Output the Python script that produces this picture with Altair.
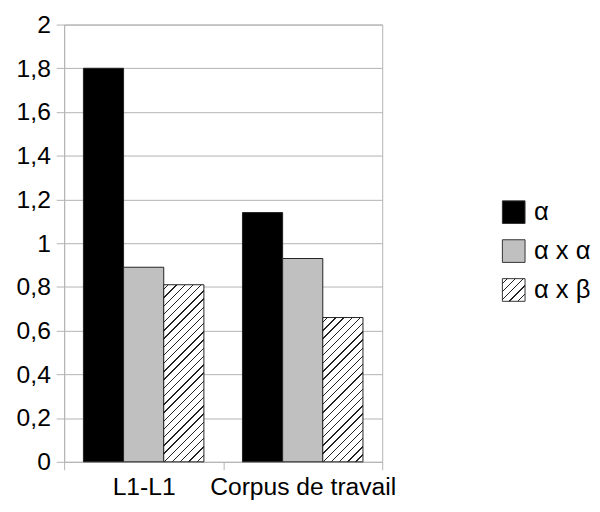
import altair as alt
import pandas as pd

# ---- data ----
groups = ["L1-L1", "Corpus de travail"]
series = ["α", "α x α", "α x β"]
alpha = [1.8, 1.14]
alpha_alpha = [0.89, 0.93]
alpha_beta = [0.81, 0.66]
y_ticks = [0, 0.2, 0.4, 0.6, 0.8, 1.0, 1.2, 1.4, 1.6, 1.8, 2.0]
colors = ["#000000", "#c0c0c0", "#ffffff"]

FONT = "Liberation Sans"
GRID = "#b3b3b3"
W, H = 323, 444
Y_MAX = 2.0
PAD_OUTER = 0.48
SQ = 23

rows = []
for i, g in enumerate(groups):
    for s, vals in zip(series, [alpha, alpha_alpha, alpha_beta]):
        rows.append({"group": g, "series": s, "value": vals[i]})
df = pd.DataFrame(rows)
leg_df = pd.DataFrame({"series": series})

band = W / len(groups)
bar_w = band / (len(series) + 2 * PAD_OUTER)


def hatch(w, h, spacing=5.9, lw=1.0, ink="#222222"):
    """Diagonal '/' hatching as a hard-stop linear gradient (bounding-box units)."""
    L = (w + h) / 2 ** 0.5
    c = (w + h) / (w * w + h * h)
    stops = [{"offset": 0, "color": "#ffffff"}]
    k = 0
    while True:
        a = (k * spacing + spacing / 2) / L
        b = a + lw / L
        if b >= 1:
            break
        stops += [
            {"offset": a, "color": "#ffffff"},
            {"offset": a, "color": ink},
            {"offset": b, "color": ink},
            {"offset": b, "color": "#ffffff"},
        ]
        k += 1
    stops.append({"offset": 1, "color": "#ffffff"})
    return {"gradient": "linear", "x1": 0, "y1": 0, "x2": w * c, "y2": h * c, "stops": stops}


conds = []
for i, g in enumerate(groups):
    h = alpha_beta[i] / Y_MAX * H
    conds.append({
        "test": f"datum.series === '{series[2]}' && datum.group === '{g}'",
        "value": hatch(bar_w, h),
    })

fill_scale = alt.Scale(domain=series, range=colors)

main = alt.Chart(df).mark_bar(stroke="#222222", strokeWidth=1, opacity=1).encode(
    x=alt.X("group:N", sort=groups, title=None,
            scale=alt.Scale(paddingInner=0, paddingOuter=0),
            axis=alt.Axis(labelAngle=0, tickBand="extent", domain=False, grid=False,
                          tickColor=GRID, tickSize=8, labelPadding=5, labelLimit=400,
                          labelFont=FONT, labelFontSize=25, labelColor="#000000")),
    xOffset=alt.XOffset("series:N", sort=series,
                        scale=alt.Scale(paddingInner=0, paddingOuter=PAD_OUTER)),
    y=alt.Y("value:Q", title=None, scale=alt.Scale(domain=[0, Y_MAX], nice=False),
            axis=alt.Axis(values=y_ticks, domainColor=GRID, tickColor=GRID, tickSize=8,
                          gridColor=GRID, labelPadding=6,
                          labelExpr="replace(format(datum.value, '.1~f'), '.', ',')",
                          labelFont=FONT, labelFontSize=25, labelColor="#000000")),
    fill=alt.Fill("series:N", sort=series, scale=fill_scale, legend=None, condition=conds),
).properties(width=W, height=H, view=alt.ViewBackground(stroke=GRID, strokeWidth=1))

leg_y = alt.Y("series:N", sort=series, axis=None,
              scale=alt.Scale(type="point", padding=0, range=[190.5, 269.5]))

leg_sq = alt.Chart(leg_df).mark_square(size=SQ * SQ, stroke="#333333", strokeWidth=1, opacity=1).encode(
    x=alt.value(133.5),
    y=leg_y,
    fill=alt.Fill("series:N", sort=series, scale=fill_scale, legend=None,
                  condition=[{"test": f"datum.series === '{series[2]}'", "value": hatch(SQ, SQ)}]),
)
leg_txt = alt.Chart(leg_df).mark_text(align="left", baseline="middle", font=FONT,
                                      fontSize=26, color="#000000").encode(
    x=alt.value(154),
    y=leg_y,
    text="series:N",
)
legend = alt.layer(leg_sq, leg_txt).properties(
    width=170, height=H, view=alt.ViewBackground(stroke="transparent"))

chart = alt.hconcat(main, legend, spacing=0, bounds="flush").resolve_scale(
    y="independent", fill="shared"
).properties(padding={"left": 7, "top": 0, "right": 0, "bottom": 0})

chart.save("out.html", embed_options={"renderer": "svg", "actions": False})
